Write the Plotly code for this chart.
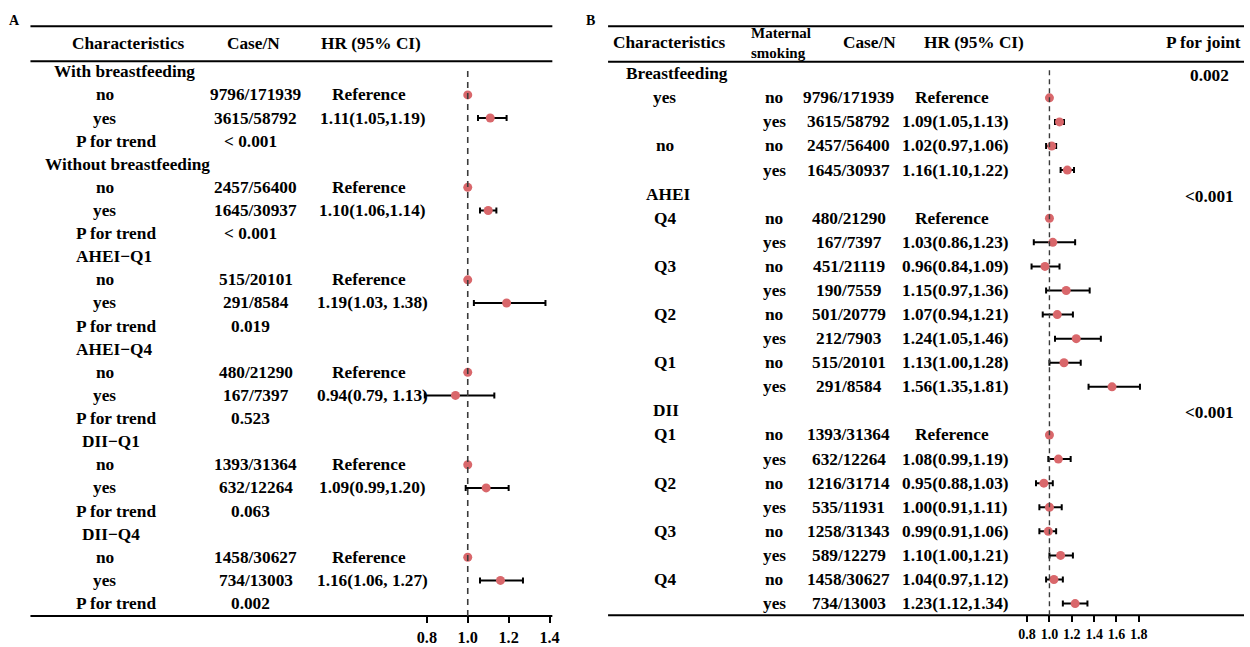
import plotly.graph_objects as go

# ---------------- Panel A data ----------------
a_labels = ["With breastfeeding", "no", "yes", "P for trend",
            "Without breastfeeding", "no", "yes", "P for trend",
            "AHEI\u2212Q1", "no", "yes", "P for trend",
            "AHEI\u2212Q4", "no", "yes", "P for trend",
            "DII\u2212Q1", "no", "yes", "P for trend",
            "DII\u2212Q4", "no", "yes", "P for trend"]
a_case = ["", "9796/171939", "3615/58792", "< 0.001",
          "", "2457/56400", "1645/30937", "< 0.001",
          "", "515/20101", "291/8584", "0.019",
          "", "480/21290", "167/7397", "0.523",
          "", "1393/31364", "632/12264", "0.063",
          "", "1458/30627", "734/13003", "0.002"]
a_hr_text = ["", "Reference", "1.11(1.05,1.19)", "",
             "", "Reference", "1.10(1.06,1.14)", "",
             "", "Reference", "1.19(1.03, 1.38)", "",
             "", "Reference", "0.94(0.79, 1.13)", "",
             "", "Reference", "1.09(0.99,1.20)", "",
             "", "Reference", "1.16(1.06, 1.27)", ""]
a_hr = [None, 1.00, 1.11, None, None, 1.00, 1.10, None, None, 1.00, 1.19, None,
        None, 1.00, 0.94, None, None, 1.00, 1.09, None, None, 1.00, 1.16, None]
a_lo = [None, None, 1.05, None, None, None, 1.06, None, None, None, 1.03, None,
        None, None, 0.79, None, None, None, 0.99, None, None, None, 1.06, None]
a_hi = [None, None, 1.19, None, None, None, 1.14, None, None, None, 1.38, None,
        None, None, 1.13, None, None, None, 1.20, None, None, None, 1.27, None]
a_ticks = [0.8, 1.0, 1.2, 1.4]

# ---------------- Panel B data ----------------
b_char = ["Breastfeeding", "yes", "", "no", "",
          "AHEI", "Q4", "", "Q3", "", "Q2", "", "Q1", "",
          "DII", "Q1", "", "Q2", "", "Q3", "", "Q4", ""]
b_smoke = ["", "no", "yes", "no", "yes",
           "", "no", "yes", "no", "yes", "no", "yes", "no", "yes",
           "", "no", "yes", "no", "yes", "no", "yes", "no", "yes"]
b_case = ["", "9796/171939", "3615/58792", "2457/56400", "1645/30937",
          "", "480/21290", "167/7397", "451/21119", "190/7559", "501/20779",
          "212/7903", "515/20101", "291/8584",
          "", "1393/31364", "632/12264", "1216/31714", "535/11931",
          "1258/31343", "589/12279", "1458/30627", "734/13003"]
b_hr_text = ["", "Reference", "1.09(1.05,1.13)", "1.02(0.97,1.06)", "1.16(1.10,1.22)",
             "", "Reference", "1.03(0.86,1.23)", "0.96(0.84,1.09)", "1.15(0.97,1.36)",
             "1.07(0.94,1.21)", "1.24(1.05,1.46)", "1.13(1.00,1.28)", "1.56(1.35,1.81)",
             "", "Reference", "1.08(0.99,1.19)", "0.95(0.88,1.03)", "1.00(0.91,1.11)",
             "0.99(0.91,1.06)", "1.10(1.00,1.21)", "1.04(0.97,1.12)", "1.23(1.12,1.34)"]
b_hr = [None, 1.00, 1.09, 1.02, 1.16,
        None, 1.00, 1.03, 0.96, 1.15, 1.07, 1.24, 1.13, 1.56,
        None, 1.00, 1.08, 0.95, 1.00, 0.99, 1.10, 1.04, 1.23]
b_lo = [None, None, 1.05, 0.97, 1.10,
        None, None, 0.86, 0.84, 0.97, 0.94, 1.05, 1.00, 1.35,
        None, None, 0.99, 0.88, 0.91, 0.91, 1.00, 0.97, 1.12]
b_hi = [None, None, 1.13, 1.06, 1.22,
        None, None, 1.23, 1.09, 1.36, 1.21, 1.46, 1.28, 1.81,
        None, None, 1.19, 1.03, 1.11, 1.06, 1.21, 1.12, 1.34]
b_pjoint = ["0.002", "", "", "", "",
            "<0.001", "", "", "", "", "", "", "", "",
            "<0.001", "", "", "", "", "", "", "", ""]
b_ticks = [0.8, 1.0, 1.2, 1.4, 1.6, 1.8]

# ---------------- layout geometry (reference pixels) ----------------
W, H = 1250, 647
FONT = "Liberation Serif, Times New Roman, Times, serif"
FS = 17.3
MARKER_COLOR = "#d9676b"

def px(x):
    return x / W

def py(y):
    return 1 - y / H

A_TOP, A_STEP, A_BOTTOM = 73.0, 23.52, 626.7
B_TOP, B_STEP, B_BOTTOM = 75.0, 24.5, 626.0
A_X1, A_SCALE, A_DOM = 470.0, 205.5, (408.0, 556.0)
B_X1, B_SCALE, B_DOM = 1054.5, 112.3, (1000.0, 1200.0)

def xrange_for(x1, scale, dom):
    return [(dom[0] - x1) / scale + 1, (dom[1] - x1) / scale + 1]

fig = go.Figure()

def add_points(hr, lo, hi, xa, ya):
    n = len(hr)
    ref_idx = [i for i in range(n) if hr[i] is not None and lo[i] is None]
    ci_idx = [i for i in range(n) if hr[i] is not None and lo[i] is not None]
    fig.add_trace(go.Scatter(
        x=[hr[i] for i in ci_idx], y=[i for i in ci_idx], mode="markers",
        marker=dict(color=MARKER_COLOR, size=9, line=dict(width=0)),
        error_x=dict(type="data", symmetric=False,
                     array=[hi[i] - hr[i] for i in ci_idx],
                     arrayminus=[hr[i] - lo[i] for i in ci_idx],
                     color="black", thickness=2, width=3),
        xaxis=xa, yaxis=ya, showlegend=False, hoverinfo="skip"))
    fig.add_trace(go.Scatter(
        x=[hr[i] for i in ref_idx], y=[i for i in ref_idx], mode="markers",
        marker=dict(color=MARKER_COLOR, size=9, line=dict(width=0)),
        xaxis=xa, yaxis=ya, showlegend=False, hoverinfo="skip"))

add_points(a_hr, a_lo, a_hi, "x", "y")
add_points(b_hr, b_lo, b_hi, "x2", "y2")

annotations = []

def txt(x, y, text, yref, size=FS, xanchor="center", align="center", yshift=0):
    annotations.append(dict(
        x=px(x), xref="paper", y=y, yref=yref, text=text, showarrow=False,
        xanchor=xanchor, yanchor="middle", align=align, yshift=yshift,
        font=dict(family=FONT, size=size, color="black", weight="bold")))

def ptxt(x, y, text, size=FS, xanchor="center", align="center"):
    annotations.append(dict(
        x=px(x), xref="paper", y=py(y), yref="paper", text=text, showarrow=False,
        xanchor=xanchor, yanchor="middle", align=align,
        font=dict(family=FONT, size=size, color="black", weight="bold")))

# ---- Panel A text ----
ptxt(14.5, 20.7, "A", size=14)
ptxt(128.8, 44.3, "Characteristics")
ptxt(255.0, 44.3, "Case/N")
ptxt(372.4, 44.3, "HR (95% CI)")

a_group_x = {"With breastfeeding": 125.0, "Without breastfeeding": 128.4,
             "AHEI\u2212Q1": 114.2, "AHEI\u2212Q4": 114.3,
             "DII\u2212Q1": 111.4, "DII\u2212Q4": 111.7}
for i, lab in enumerate(a_labels):
    if lab in a_group_x:
        txt(a_group_x[lab], i, lab, "y")
    elif lab == "P for trend":
        txt(116.3, i, lab, "y")
    else:
        txt(105.5, i, lab, "y")
for i, c in enumerate(a_case):
    if c:
        is_p = "/" not in c
        txt(252.0 if is_p else 257.0, i, c, "y")
for i, t in enumerate(a_hr_text):
    if t:
        txt(371.0 if t == "Reference" else 374.5, i, t, "y")

# ---- Panel B text ----
ptxt(593.5, 20.7, "B", size=14)
ptxt(673.0, 43.3, "Characteristics")
ptxt(753.0, 44.0, "Maternal<br>smoking", size=15, xanchor="left", align="left")
ptxt(873.5, 43.3, "Case/N")
ptxt(979.0, 43.3, "HR (95% CI)")
ptxt(1209.0, 43.3, "P for joint")

b_group_x = {"Breastfeeding": 680.5, "AHEI": 671.5, "DII": 669.0}
for i, lab in enumerate(b_char):
    if lab:
        txt(b_group_x.get(lab, 668.0), i, lab, "y2")
for i, s in enumerate(b_smoke):
    if s:
        txt(778.0, i, s, "y2")
for i, c in enumerate(b_case):
    if c:
        txt(853.0, i, c, "y2")
for i, t in enumerate(b_hr_text):
    if t:
        txt(957.0 if t == "Reference" else 959.8, i, t, "y2")
for i, p in enumerate(b_pjoint):
    if p:
        txt(1215.0, i, p, "y2", yshift=-2)

# ---- lines ----
shapes = []

def hline(x0, x1, y, w=2):
    shapes.append(dict(type="line", xref="paper", yref="paper",
                       x0=px(x0), x1=min(px(x1), 1.0), y0=py(y), y1=py(y),
                       line=dict(color="black", width=w)))

hline(30.6, 555.0, 26.7)
hline(30.6, 555.0, 62.3)
hline(30.6, 555.0, A_BOTTOM)
hline(611.0, 1250.0, 26.7)
hline(611.0, 1250.0, 62.7)
hline(611.0, 1250.0, B_BOTTOM)

shapes.append(dict(type="line", xref="x", yref="paper", x0=1.0, x1=1.0,
                   y0=py(A_BOTTOM), y1=py(68.0),
                   line=dict(color="#3a3a3a", width=1.6, dash="6px,5px")))
shapes.append(dict(type="line", xref="x2", yref="paper", x0=1.0, x1=1.0,
                   y0=py(B_BOTTOM), y1=py(68.0),
                   line=dict(color="#3a3a3a", width=1.4, dash="5px,4px")))

# ---- axes ----
def yaxis_cfg(top, step, bottom):
    return dict(domain=[py(bottom), 1.0],
                range=[(bottom - top) / step, (0 - top) / step],
                visible=False, fixedrange=True)

def xaxis_cfg(x1, scale, dom, ticks, anchor, size):
    return dict(domain=[px(dom[0]), px(dom[1])],
                range=xrange_for(x1, scale, dom),
                anchor=anchor, tickmode="array", tickvals=ticks,
                ticktext=[f"{t:.1f}" for t in ticks],
                ticks="outside", ticklen=6, tickwidth=2, tickcolor="black",
                showline=False, showgrid=False, zeroline=False,
                tickfont=dict(family=FONT, size=size, color="black", weight="bold"),
                fixedrange=True)

fig.update_layout(
    width=W, height=H,
    margin=dict(l=0, r=0, t=0, b=0),
    paper_bgcolor="white", plot_bgcolor="rgba(0,0,0,0)",
    xaxis=xaxis_cfg(A_X1, A_SCALE, A_DOM, a_ticks, "y", 16.3),
    yaxis=yaxis_cfg(A_TOP, A_STEP, A_BOTTOM),
    xaxis2=xaxis_cfg(B_X1, B_SCALE, B_DOM, b_ticks, "y2", 14),
    yaxis2=yaxis_cfg(B_TOP, B_STEP, B_BOTTOM),
    annotations=annotations,
    shapes=shapes,
    showlegend=False,
)

# place the figure at the page origin (no default body margin)
post = (
    "document.body.style.margin='0px';"
    "document.documentElement.style.overflow='hidden';"
    "document.body.style.overflow='hidden';"
)

fig.write_html("out.html", config={"displayModeBar": False}, post_script=post)
